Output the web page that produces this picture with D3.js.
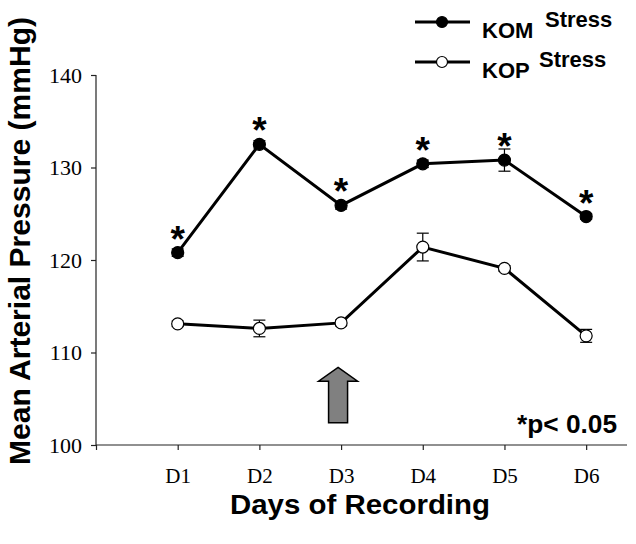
<!DOCTYPE html>
<html><head><meta charset="utf-8">
<script src="https://cdn.jsdelivr.net/npm/d3@7"></script>
<style>body{margin:0;background:#fff}</style>
</head><body>
<svg id="c" width="636" height="544"></svg>
<script>
const days = ["D1","D2","D3","D4","D5","D6"];
const komMean = [120.8, 132.5, 125.9, 130.4, 130.8, 124.7];
const komErr  = [0.4, 0.4, 0.4, 0.4, 1.2, 0.3];
const kopMean = [113.1, 112.6, 113.2, 121.4, 119.1, 111.8];
const kopErr  = [0.3, 0.9, 0.3, 1.5, 0.3, 0.7];
const yTicks = [100, 110, 120, 130, 140];
const arrowDay = 3;

const svg = d3.select("#c");
const x = d3.scaleLinear().domain([0, 6.5]).range([96, 627]);
const y = d3.scaleLinear().domain([100, 140]).range([445, 75]);
const SANS = "'Liberation Sans',Arial,sans-serif";

// axes
const yAxis = d3.axisLeft(y).tickValues(yTicks).tickSize(5).tickPadding(9).tickFormat(d3.format("d"));
const gy = svg.append("g").attr("transform", "translate(96,0)").call(yAxis);
const xAxis = d3.axisBottom(x).tickValues([0,1,2,3,4,5,6]).tickSize(5).tickPadding(18)
  .tickFormat(d => d === 0 ? "" : days[d-1]);
const gx = svg.append("g").attr("transform", "translate(0,445)").call(xAxis);
[gx, gy].forEach(g => {
  g.select(".domain").attr("stroke", "#222").attr("stroke-width", 1.2);
  g.selectAll(".tick line").attr("stroke", "#222").attr("stroke-width", 1.2);
  g.selectAll(".tick text").attr("font-family", "'Liberation Serif','Times New Roman',serif")
    .attr("fill", "#000");
});
gx.selectAll(".tick text").attr("font-size", 21);
gy.selectAll(".tick text").attr("font-size", 22);
gx.select(".domain").attr("d", "M96,0H627");
gy.select(".domain").attr("d", "M0,75V445");

// axis titles
svg.append("text").attr("transform", "translate(30,241) rotate(-90)")
  .attr("text-anchor", "middle").attr("font-family", SANS)
  .attr("font-weight", "bold").attr("font-size", 30)
  .attr("textLength", 448).attr("lengthAdjust", "spacingAndGlyphs")
  .text("Mean Arterial Pressure (mmHg)");
svg.append("text").attr("x", 360).attr("y", 514)
  .attr("text-anchor", "middle").attr("font-family", SANS)
  .attr("font-weight", "bold").attr("font-size", 27)
  .attr("textLength", 260).attr("lengthAdjust", "spacingAndGlyphs")
  .text("Days of Recording");

// arrow
const ax = x(arrowDay) - 3;
const aTop = y(108.4), aHead = y(106.9), aBot = y(102.4);
svg.append("path")
  .attr("d", `M${ax},${aTop} L${ax+19.5},${aHead} L${ax+9.5},${aHead} L${ax+9.5},${aBot} L${ax-9.5},${aBot} L${ax-9.5},${aHead} L${ax-19.5},${aHead} Z`)
  .attr("fill", "#808080").attr("stroke", "#000").attr("stroke-width", 1.5).attr("stroke-linejoin", "miter");

// p value note
svg.append("text").attr("x", 517).attr("y", 433)
  .attr("font-family", SANS).attr("font-weight", "bold")
  .attr("font-size", 25).attr("textLength", 100).attr("lengthAdjust", "spacingAndGlyphs")
  .text("*p< 0.05");

const line = d3.line().x((d,i) => x(i+1)).y(d => y(d));

function series(means, errs, fill) {
  const g = svg.append("g");
  means.forEach((m, i) => {
    const cx = x(i+1), e = errs[i];
    g.append("line").attr("x1", cx).attr("x2", cx).attr("y1", y(m+e)).attr("y2", y(m-e))
      .attr("stroke", "#000").attr("stroke-width", 1.2);
    [m+e, m-e].forEach(v => g.append("line").attr("x1", cx-6).attr("x2", cx+6)
      .attr("y1", y(v)).attr("y2", y(v)).attr("stroke", "#000").attr("stroke-width", 1.2));
  });
  g.append("path").datum(means).attr("d", line).attr("fill", "none")
    .attr("stroke", "#000").attr("stroke-width", 3);
  g.selectAll("circle").data(means).join("circle")
    .attr("cx", (d,i) => x(i+1)).attr("cy", d => y(d)).attr("r", 6)
    .attr("fill", fill).attr("stroke", "#000").attr("stroke-width", 1.2);
}
series(kopMean, kopErr, "#fff");
series(komMean, komErr, "#000");

// significance asterisks
svg.append("g").selectAll("text").data(komMean).join("text")
  .attr("x", (d,i) => x(i+1)).attr("y", d => y(d) - 1).attr("text-anchor", "middle")
  .attr("font-family", SANS).attr("font-weight", "bold")
  .attr("font-size", 37).text("*");

// legend
const legend = [
  {name: "KOM", fill: "#000", y: 22, sx: 545},
  {name: "KOP", fill: "#fff", y: 62, sx: 539}
];
legend.forEach(l => {
  svg.append("line").attr("x1", 415).attr("x2", 470).attr("y1", l.y).attr("y2", l.y)
    .attr("stroke", "#000").attr("stroke-width", 3);
  svg.append("circle").attr("cx", 442).attr("cy", l.y).attr("r", 5.5)
    .attr("fill", l.fill).attr("stroke", "#000").attr("stroke-width", 1.2);
  svg.append("text").attr("x", 482).attr("y", l.y + 16)
    .attr("font-family", SANS).attr("font-weight", "bold")
    .attr("font-size", 22).text(l.name);
  svg.append("text").attr("x", l.sx).attr("y", l.y + 5)
    .attr("font-family", SANS).attr("font-weight", "bold")
    .attr("font-size", 22).text("Stress");
});
</script>
</body></html>
